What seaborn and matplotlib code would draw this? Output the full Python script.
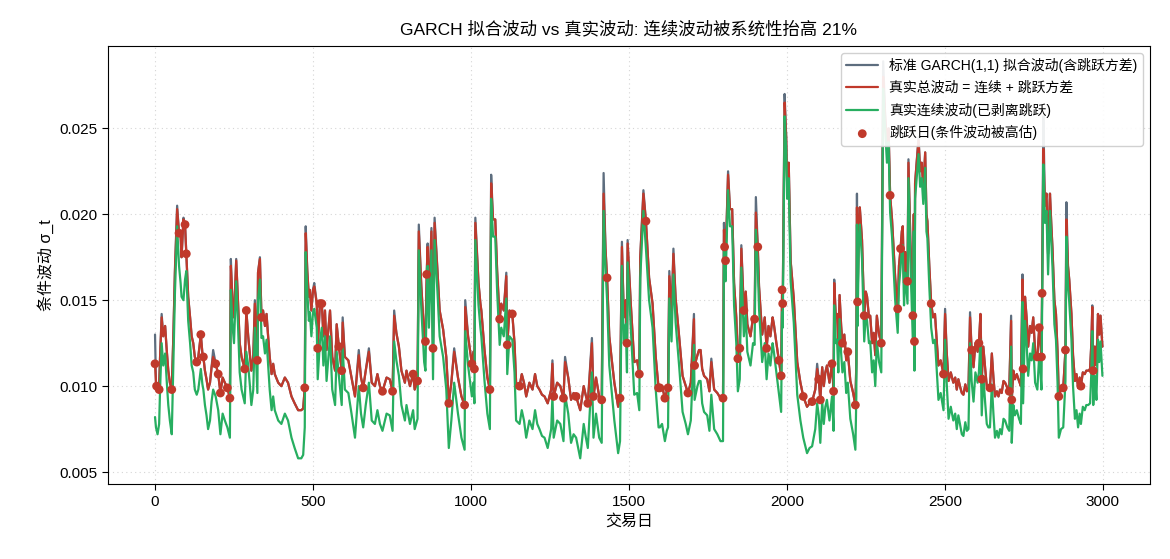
import numpy as np
import pandas as pd
import matplotlib
matplotlib.use("Agg")
import matplotlib.pyplot as plt
import seaborn as sns

# ---------------- data ----------------
days = [0, 3, 8, 13, 16, 21, 26, 32, 37, 42, 47, 53, 58, 63, 70, 76, 81, 84, 90, 95, 99, 105, 111, 116, 121, 126, 132, 137, 145, 150,
        153, 158, 163, 168, 174, 179, 184, 192, 200, 207, 214, 221, 229, 237, 240, 245, 250, 257, 263, 268, 274, 284, 289, 295, 300,
        305, 311, 316, 324, 326, 332, 337, 342, 348, 353, 358, 363, 369, 374, 379, 390, 400, 411, 421, 432, 442, 453, 463, 469, 474,
        477, 482, 487, 490, 495, 500, 504, 512, 515, 522, 528, 533, 538, 543, 554, 561, 570, 575, 582, 591, 594, 601, 612, 622, 633,
        645, 652, 659, 667, 677, 686, 696, 704, 712, 720, 733, 743, 752, 757, 764, 772, 780, 791, 796, 807, 817, 822, 831, 835, 843,
        852, 856, 860, 863, 867, 875, 880, 885, 894, 901, 912, 922, 930, 938, 947, 959, 970, 980, 982, 991, 1003, 1008, 1011, 1014, 1024,
        1030, 1033, 1043, 1052, 1060, 1064, 1070, 1077, 1083, 1091, 1096, 1104, 1112, 1115, 1122, 1131, 1138, 1143, 1154, 1161, 1168, 1175, 1185, 1195,
        1203, 1210, 1217, 1225, 1233, 1243, 1254, 1258, 1262, 1273, 1283, 1293, 1298, 1308, 1317, 1325, 1333, 1346, 1357, 1363, 1370, 1383, 1388, 1396,
        1406, 1414, 1420, 1426, 1431, 1438, 1446, 1454, 1466, 1472, 1478, 1484, 1490, 1494, 1496, 1506, 1517, 1526, 1533, 1536, 1546, 1554, 1564, 1575,
        1585, 1594, 1598, 1605, 1614, 1620, 1624, 1628, 1635, 1641, 1648, 1659, 1670, 1680, 1687, 1696, 1706, 1708, 1717, 1722, 1727, 1732, 1738, 1748,
        1755, 1761, 1770, 1780, 1790, 1798, 1801, 1803, 1806, 1814, 1820, 1827, 1833, 1840, 1845, 1851, 1856, 1864, 1870, 1875, 1885, 1893, 1898, 1902,
        1908, 1912, 1922, 1930, 1936, 1942, 1948, 1955, 1959, 1967, 1975, 1982, 1985, 1987, 1993, 1998, 2001, 2006, 2012, 2022, 2033, 2043, 2052, 2064,
        2072, 2080, 2090, 2096, 2101, 2106, 2112, 2117, 2122, 2127, 2135, 2143, 2148, 2150, 2155, 2159, 2163, 2167, 2172, 2176, 2182, 2188, 2193, 2201,
        2210, 2217, 2220, 2222, 2224, 2228, 2231, 2238, 2245, 2250, 2254, 2260, 2264, 2270, 2275, 2280, 2285, 2292, 2299, 2305, 2311, 2317, 2322, 2327,
        2333, 2338, 2343, 2351, 2355, 2360, 2364, 2367, 2371, 2375, 2382, 2385, 2391, 2399, 2402, 2404, 2406, 2411, 2417, 2422, 2427, 2432, 2438, 2442,
        2445, 2451, 2457, 2463, 2469, 2475, 2480, 2487, 2496, 2501, 2506, 2512, 2519, 2527, 2533, 2538, 2543, 2548, 2554, 2559, 2565, 2570, 2575, 2580,
        2585, 2591, 2597, 2604, 2608, 2613, 2617, 2622, 2628, 2633, 2638, 2643, 2649, 2654, 2659, 2665, 2670, 2675, 2680, 2686, 2691, 2698, 2704, 2710,
        2712, 2717, 2722, 2728, 2735, 2741, 2746, 2748, 2754, 2759, 2764, 2770, 2775, 2780, 2786, 2793, 2799, 2803, 2806, 2808, 2812, 2817, 2822, 2827,
        2833, 2837, 2841, 2847, 2852, 2857, 2861, 2868, 2875, 2879, 2882, 2885, 2890, 2894, 2898, 2901, 2906, 2912, 2917, 2922, 2927, 2931, 2937, 2943,
        2948, 2954, 2960, 2964, 2967, 2970, 2975, 2980, 2985, 2989, 2993, 2999]

total_vol = [.0113, .0102, .0099, .0100, .0117, .0140, .0129, .0135, .0121, .0109, .0102, .0098, .0129, .0166, .0203, .0189, .0187, .0175, .0197, .0194,
             .0177, .0152, .0140, .0129, .0125, .0117, .0114, .0117, .0130, .0119, .0117, .0109, .0104, .0098, .0102, .0111, .0117, .0113, .0107, .0096,
             .0105, .0102, .0099, .0093, .0170, .0150, .0140, .0173, .0148, .0125, .0117, .0110, .0144, .0129, .0119, .0109, .0117, .0148, .0115, .0166,
             .0174, .0140, .0144, .0135, .0142, .0129, .0117, .0107, .0113, .0107, .0102, .0100, .0105, .0102, .0094, .0090, .0086, .0086, .0087, .0099,
             .0189, .0167, .0152, .0156, .0144, .0156, .0158, .0148, .0122, .0148, .0148, .0129, .0144, .0121, .0144, .0117, .0109, .0136, .0123, .0109,
             .0137, .0117, .0115, .0105, .0094, .0118, .0105, .0099, .0109, .0120, .0102, .0100, .0107, .0100, .0097, .0105, .0104, .0097, .0141, .0131,
             .0123, .0109, .0102, .0109, .0100, .0107, .0098, .0103, .0190, .0158, .0130, .0126, .0165, .0181, .0148, .0190, .0122, .0195, .0167, .0144,
             .0133, .0117, .0090, .0102, .0120, .0105, .0094, .0089, .0146, .0129, .0113, .0120, .0110, .0195, .0160, .0148, .0144, .0121, .0105, .0098,
             .0218, .0197, .0197, .0167, .0139, .0148, .0144, .0164, .0124, .0144, .0142, .0125, .0102, .0100, .0107, .0102, .0094, .0102, .0098, .0107,
             .0100, .0098, .0095, .0094, .0090, .0098, .0113, .0094, .0102, .0100, .0093, .0114, .0105, .0092, .0096, .0094, .0086, .0100, .0095, .0090,
             .0125, .0094, .0105, .0094, .0092, .0212, .0180, .0163, .0129, .0115, .0102, .0088, .0093, .0181, .0140, .0150, .0125, .0183, .0148, .0114,
             .0115, .0107, .0175, .0212, .0196, .0163, .0148, .0117, .0099, .0099, .0100, .0093, .0097, .0099, .0164, .0141, .0177, .0151, .0129, .0106,
             .0100, .0096, .0102, .0139, .0112, .0118, .0121, .0121, .0110, .0106, .0104, .0097, .0114, .0098, .0096, .0093, .0093, .0191, .0181, .0173,
             .0223, .0203, .0203, .0160, .0140, .0116, .0122, .0180, .0144, .0155, .0136, .0129, .0140, .0139, .0201, .0181, .0158, .0130, .0140, .0122,
             .0135, .0129, .0140, .0136, .0125, .0115, .0106, .0156, .0148, .0265, .0245, .0218, .0230, .0173, .0151, .0114, .0102, .0094, .0088, .0090,
             .0091, .0098, .0110, .0104, .0092, .0111, .0100, .0108, .0112, .0102, .0113, .0097, .0160, .0140, .0142, .0125, .0153, .0135, .0125, .0130,
             .0115, .0120, .0103, .0096, .0089, .0113, .0204, .0149, .0195, .0204, .0185, .0141, .0155, .0152, .0140, .0141, .0125, .0131, .0118, .0141,
             .0130, .0125, .0280, .0258, .0239, .0250, .0211, .0197, .0180, .0163, .0145, .0170, .0180, .0190, .0193, .0160, .0178, .0161, .0230, .0185,
             .0141, .0200, .0126, .0218, .0230, .0243, .0225, .0230, .0215, .0236, .0200, .0196, .0170, .0148, .0140, .0142, .0125, .0112, .0115, .0107,
             .0142, .0120, .0103, .0108, .0102, .0105, .0098, .0104, .0100, .0096, .0095, .0101, .0097, .0098, .0140, .0121, .0111, .0125, .0120, .0125,
             .0142, .0104, .0123, .0110, .0100, .0099, .0099, .0119, .0105, .0094, .0097, .0094, .0098, .0096, .0103, .0102, .0099, .0097, .0138, .0092,
             .0109, .0104, .0107, .0103, .0100, .0162, .0110, .0152, .0140, .0123, .0135, .0131, .0140, .0120, .0117, .0134, .0125, .0117, .0154, .0238,
             .0205, .0212, .0177, .0212, .0195, .0180, .0150, .0142, .0120, .0094, .0098, .0099, .0112, .0121, .0197, .0170, .0162, .0150, .0142, .0118,
             .0103, .0107, .0099, .0105, .0100, .0108, .0107, .0109, .0109, .0110, .0125, .0146, .0109, .0123, .0112, .0142, .0130, .0141, .0123]

garch_vol = [.0130, .0102, .0099, .0100, .0117, .0142, .0129, .0135, .0121, .0109, .0102, .0098, .0129, .0168, .0205, .0189, .0187, .0175, .0198, .0194,
             .0177, .0152, .0140, .0129, .0125, .0117, .0114, .0117, .0130, .0119, .0117, .0109, .0104, .0098, .0102, .0111, .0121, .0113, .0107, .0096,
             .0105, .0102, .0099, .0093, .0174, .0150, .0140, .0174, .0148, .0125, .0117, .0110, .0144, .0129, .0119, .0109, .0117, .0150, .0115, .0166,
             .0175, .0140, .0144, .0135, .0142, .0129, .0117, .0107, .0113, .0107, .0102, .0100, .0105, .0102, .0094, .0090, .0086, .0086, .0087, .0099,
             .0193, .0167, .0152, .0156, .0144, .0156, .0160, .0148, .0122, .0148, .0148, .0129, .0144, .0121, .0144, .0117, .0109, .0136, .0123, .0109,
             .0140, .0117, .0115, .0105, .0094, .0121, .0105, .0099, .0109, .0122, .0102, .0100, .0107, .0100, .0097, .0105, .0104, .0097, .0144, .0131,
             .0123, .0109, .0102, .0109, .0100, .0107, .0098, .0103, .0194, .0158, .0130, .0126, .0165, .0183, .0148, .0192, .0122, .0198, .0167, .0144,
             .0133, .0117, .0090, .0102, .0122, .0105, .0094, .0089, .0150, .0129, .0113, .0120, .0110, .0198, .0160, .0148, .0144, .0121, .0105, .0098,
             .0223, .0197, .0197, .0167, .0139, .0148, .0144, .0166, .0124, .0144, .0142, .0125, .0102, .0100, .0107, .0102, .0094, .0102, .0098, .0107,
             .0100, .0098, .0095, .0094, .0090, .0098, .0115, .0094, .0102, .0100, .0093, .0117, .0105, .0092, .0096, .0094, .0086, .0100, .0095, .0090,
             .0128, .0094, .0105, .0094, .0092, .0224, .0180, .0163, .0129, .0115, .0102, .0088, .0093, .0184, .0140, .0150, .0125, .0185, .0148, .0114,
             .0115, .0107, .0175, .0214, .0196, .0163, .0148, .0117, .0099, .0099, .0100, .0093, .0097, .0099, .0167, .0141, .0180, .0151, .0129, .0106,
             .0100, .0096, .0102, .0142, .0112, .0118, .0121, .0121, .0110, .0106, .0104, .0097, .0116, .0098, .0096, .0093, .0093, .0195, .0181, .0173,
             .0225, .0203, .0203, .0160, .0140, .0116, .0122, .0182, .0144, .0155, .0136, .0129, .0140, .0139, .0210, .0181, .0158, .0130, .0140, .0122,
             .0135, .0129, .0140, .0136, .0125, .0115, .0106, .0156, .0148, .0270, .0245, .0218, .0230, .0173, .0151, .0114, .0102, .0094, .0088, .0090,
             .0091, .0098, .0113, .0104, .0092, .0111, .0100, .0108, .0112, .0102, .0113, .0097, .0162, .0140, .0142, .0125, .0153, .0135, .0125, .0130,
             .0115, .0120, .0103, .0096, .0089, .0113, .0212, .0149, .0195, .0204, .0185, .0141, .0155, .0152, .0140, .0141, .0125, .0131, .0118, .0141,
             .0130, .0125, .0289, .0258, .0239, .0250, .0211, .0197, .0180, .0163, .0145, .0170, .0180, .0190, .0193, .0160, .0178, .0161, .0232, .0185,
             .0141, .0200, .0126, .0218, .0230, .0245, .0225, .0230, .0215, .0236, .0200, .0196, .0170, .0148, .0140, .0142, .0125, .0112, .0115, .0107,
             .0145, .0120, .0103, .0108, .0102, .0105, .0098, .0104, .0100, .0096, .0095, .0101, .0097, .0098, .0143, .0121, .0111, .0125, .0120, .0125,
             .0142, .0104, .0123, .0110, .0100, .0099, .0099, .0119, .0105, .0094, .0097, .0094, .0098, .0096, .0103, .0102, .0099, .0097, .0141, .0092,
             .0109, .0104, .0107, .0103, .0100, .0165, .0110, .0152, .0140, .0123, .0135, .0131, .0140, .0120, .0117, .0134, .0125, .0117, .0154, .0257,
             .0205, .0212, .0177, .0212, .0195, .0180, .0150, .0142, .0120, .0094, .0098, .0099, .0112, .0121, .0207, .0170, .0162, .0150, .0142, .0118,
             .0103, .0107, .0099, .0105, .0100, .0108, .0107, .0109, .0109, .0110, .0125, .0147, .0109, .0123, .0112, .0142, .0130, .0141, .0123]

cont_vol = [.0082, .0076, .0072, .0078, .0098, .0125, .0112, .0119, .0103, .0089, .0080, .0072, .0112, .0154, .0193, .0170, .0160, .0152, .0150, .0162,
            .0167, .0138, .0125, .0112, .0108, .0098, .0095, .0098, .0110, .0101, .0098, .0089, .0083, .0075, .0080, .0091, .0098, .0094, .0086, .0072,
            .0084, .0080, .0076, .0070, .0156, .0136, .0125, .0161, .0134, .0108, .0098, .0090, .0120, .0112, .0101, .0089, .0098, .0134, .0096, .0150,
            .0162, .0128, .0129, .0119, .0127, .0112, .0098, .0086, .0094, .0086, .0080, .0078, .0084, .0080, .0070, .0064, .0058, .0058, .0060, .0076,
            .0178, .0155, .0138, .0143, .0129, .0143, .0145, .0134, .0104, .0126, .0134, .0112, .0129, .0103, .0129, .0098, .0089, .0120, .0106, .0089,
            .0122, .0098, .0096, .0084, .0070, .0100, .0084, .0076, .0089, .0102, .0080, .0078, .0086, .0078, .0074, .0084, .0083, .0074, .0126, .0115,
            .0106, .0089, .0080, .0089, .0078, .0086, .0075, .0081, .0179, .0145, .0114, .0109, .0152, .0170, .0134, .0179, .0104, .0185, .0155, .0129,
            .0117, .0098, .0064, .0080, .0102, .0084, .0070, .0063, .0132, .0112, .0094, .0102, .0090, .0185, .0147, .0134, .0129, .0103, .0084, .0075,
            .0209, .0187, .0187, .0155, .0124, .0134, .0129, .0151, .0107, .0129, .0127, .0108, .0080, .0078, .0086, .0080, .0070, .0080, .0075, .0086,
            .0078, .0075, .0071, .0070, .0064, .0075, .0094, .0070, .0080, .0078, .0068, .0095, .0084, .0067, .0072, .0070, .0058, .0078, .0071, .0064,
            .0108, .0070, .0084, .0070, .0067, .0202, .0169, .0150, .0112, .0096, .0080, .0061, .0068, .0170, .0125, .0136, .0108, .0172, .0134, .0095,
            .0096, .0086, .0163, .0202, .0180, .0150, .0134, .0098, .0076, .0076, .0078, .0068, .0074, .0076, .0151, .0126, .0165, .0137, .0112, .0085,
            .0078, .0072, .0080, .0124, .0092, .0100, .0103, .0103, .0090, .0085, .0083, .0074, .0095, .0075, .0072, .0068, .0068, .0180, .0170, .0161,
            .0214, .0193, .0193, .0147, .0125, .0097, .0104, .0169, .0129, .0142, .0120, .0112, .0125, .0124, .0191, .0170, .0145, .0114, .0125, .0104,
            .0119, .0112, .0125, .0120, .0108, .0096, .0085, .0143, .0134, .0257, .0237, .0209, .0221, .0161, .0137, .0095, .0080, .0070, .0061, .0064,
            .0065, .0075, .0090, .0083, .0067, .0091, .0078, .0088, .0092, .0080, .0094, .0074, .0147, .0125, .0127, .0108, .0139, .0119, .0108, .0114,
            .0096, .0102, .0081, .0072, .0063, .0094, .0194, .0135, .0185, .0194, .0174, .0126, .0142, .0138, .0125, .0126, .0108, .0115, .0100, .0126,
            .0114, .0108, .0273, .0250, .0230, .0242, .0201, .0187, .0169, .0150, .0131, .0158, .0169, .0179, .0182, .0147, .0166, .0148, .0221, .0174,
            .0126, .0190, .0109, .0209, .0221, .0235, .0216, .0221, .0206, .0227, .0190, .0186, .0158, .0134, .0125, .0127, .0108, .0092, .0096, .0086,
            .0127, .0102, .0081, .0088, .0080, .0084, .0075, .0083, .0078, .0072, .0071, .0079, .0074, .0075, .0125, .0103, .0091, .0108, .0102, .0108,
            .0127, .0083, .0106, .0090, .0078, .0076, .0076, .0101, .0084, .0070, .0074, .0070, .0075, .0072, .0081, .0080, .0076, .0074, .0123, .0067,
            .0089, .0083, .0086, .0081, .0078, .0149, .0090, .0138, .0125, .0106, .0119, .0115, .0125, .0102, .0098, .0118, .0108, .0098, .0140, .0229,
            .0195, .0202, .0165, .0202, .0185, .0169, .0136, .0127, .0102, .0070, .0075, .0076, .0092, .0103, .0187, .0158, .0149, .0136, .0127, .0100,
            .0081, .0086, .0076, .0084, .0078, .0088, .0086, .0089, .0089, .0090, .0108, .0132, .0089, .0106, .0092, .0127, .0114, .0126, .0106]

jump_days = [0, 5, 13, 53, 76, 95, 99, 132, 145, 153, 192, 200, 207, 229, 237, 284, 289, 324, 337, 474,
             515, 522, 528, 582, 591, 659, 720, 752, 817, 831, 856, 860, 880, 930, 980, 1003, 1011, 1060, 1091, 1115,
             1131, 1154, 1262, 1293, 1333, 1370, 1388, 1414, 1431, 1472, 1494, 1533, 1554, 1594, 1598, 1614, 1624, 1687, 1708, 1798,
             1803, 1806, 1845, 1851, 1864, 1898, 1908, 1936, 1975, 1982, 1985, 1987, 2052, 2080, 2101, 2106, 2143, 2148, 2176, 2193,
             2217, 2224, 2245, 2299, 2327, 2351, 2360, 2382, 2399, 2404, 2457, 2496, 2585, 2608, 2617, 2643, 2704, 2712, 2748, 2793,
             2799, 2806, 2808, 2861, 2875, 2882, 2931, 2970]
jump_vals = [.0113, .0100, .0098, .0098, .0189, .0194, .0177, .0114, .0130, .0117, .0113, .0107, .0096, .0099, .0093, .0110, .0144, .0115, .0140, .0099,
             .0122, .0148, .0148, .0123, .0109, .0099, .0097, .0097, .0107, .0103, .0126, .0165, .0122, .0090, .0089, .0113, .0110, .0098, .0139, .0124,
             .0142, .0100, .0094, .0093, .0094, .0090, .0094, .0092, .0163, .0093, .0125, .0107, .0196, .0099, .0099, .0093, .0099, .0096, .0112, .0093,
             .0181, .0173, .0116, .0122, .0144, .0139, .0181, .0122, .0115, .0106, .0156, .0148, .0094, .0091, .0104, .0092, .0113, .0097, .0125, .0120,
             .0089, .0149, .0141, .0125, .0211, .0145, .0180, .0161, .0141, .0126, .0148, .0107, .0121, .0125, .0104, .0099, .0097, .0092, .0110, .0117,
             .0134, .0117, .0154, .0094, .0099, .0121, .0100, .0109]

series_labels = ["标准 GARCH(1,1) 拟合波动(含跳跃方差)", "真实总波动 = 连续 + 跳跃方差",
                 "真实连续波动(已剥离跳跃)", "跳跃日(条件波动被高估)"]
title = "GARCH 拟合波动 vs 真实波动: 连续波动被系统性抬高 21%"
xlabel = "交易日"
ylabel = "条件波动 σ_t"

# ---------------- plotting ----------------
sns.set_theme(style="ticks")
plt.rcParams["font.family"] = ["Liberation Sans", "Noto Sans CJK SC", "DejaVu Sans"]
plt.rcParams["axes.unicode_minus"] = False
plt.rcParams["text.color"] = "black"
plt.rcParams["axes.labelcolor"] = "black"
plt.rcParams["xtick.color"] = "black"
plt.rcParams["ytick.color"] = "black"

df = pd.DataFrame({"day": days, "garch": garch_vol, "total": total_vol, "cont": cont_vol})
jumps = pd.DataFrame({"day": jump_days, "vol": jump_vals})

fig = plt.figure(figsize=(11.7, 5.59), dpi=100)
ax = fig.add_axes([0.092, 0.134, 0.891, 0.784])

sns.lineplot(data=df, x="day", y="garch", ax=ax, color="#5d6d7e", lw=1.6,
             label=series_labels[0], sort=False, estimator=None)
sns.lineplot(data=df, x="day", y="total", ax=ax, color="#c0392b", lw=1.6,
             label=series_labels[1], sort=False, estimator=None)
sns.lineplot(data=df, x="day", y="cont", ax=ax, color="#27ae60", lw=1.6,
             label=series_labels[2], sort=False, estimator=None)
sns.scatterplot(data=jumps, x="day", y="vol", ax=ax, color="#c0392b", s=40,
                edgecolor="none", label=series_labels[3], zorder=5)

ax.set_xlim(-150, 3150)
ax.set_ylim(0.0043, 0.0298)
ax.set_xticks([0, 500, 1000, 1500, 2000, 2500, 3000])
ax.set_yticks([0.005, 0.010, 0.015, 0.020, 0.025])
ax.set_yticklabels(["0.005", "0.010", "0.015", "0.020", "0.025"])
ax.tick_params(labelsize=11, length=4, width=0.8, color="black", labelcolor="black")
ax.grid(True, linestyle=(0, (1, 3)), color="#d5d5d5", linewidth=0.8)
for sp in ax.spines.values():
    sp.set_visible(True)
    sp.set_color("black")
    sp.set_linewidth(0.8)

ax.set_title(title, fontsize=12.5, pad=8, color="black")
ax.set_xlabel(xlabel, fontsize=11.5, color="black")
ax.set_ylabel(ylabel, fontsize=11.5, color="black")

leg = ax.legend(loc="upper right", fontsize=10, frameon=True, framealpha=0.9,
                borderaxespad=0.5, handlelength=2.3, labelspacing=0.55)
leg.get_frame().set_edgecolor("#cccccc")
for t in leg.get_texts():
    t.set_color("black")

fig.savefig("out.png", dpi=100)
